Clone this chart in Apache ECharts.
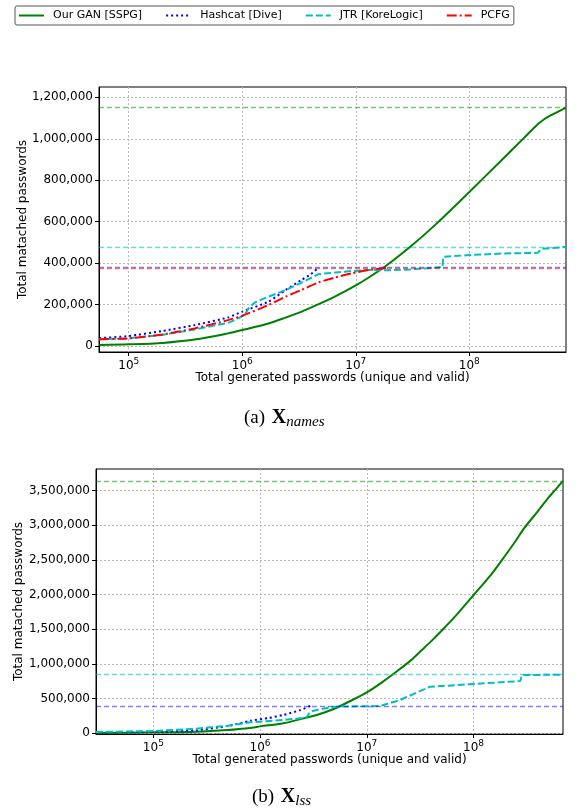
<!DOCTYPE html>
<html><head><meta charset="utf-8">
<script src="https://cdn.jsdelivr.net/npm/echarts@6/dist/echarts.min.js"></script>
<style>html,body{margin:0;padding:0;background:#fff}#c{width:579px;height:811px}</style>
</head><body><div id="c"></div>
<script>
// ---- series names ----
const seriesNames = ['Our GAN [SSPG]', 'Hashcat [Dive]', 'JTR [KoreLogic]', 'PCFG'];

// ---- (a) X_names ----
const ganNamesX = [5.5e4, 1e5, 2e5, 3.8e5, 7.5e5, 1e6, 1.7e6, 2.4e6, 3.3e6, 4.7e6, 6.6e6, 1e7, 1.3e7, 1.8e7, 3e7, 5e7, 1e8, 2e8, 3e8, 4e8, 4.5e8, 5e8, 6e8, 7.1e8];
const ganNamesY = [4000, 7000, 14000, 30000, 60000, 76000, 108000, 136000, 164000, 201000, 239000, 292000, 330000, 382000, 477000, 584000, 743000, 906000, 1002000, 1070000, 1092000, 1108000, 1130000, 1150000];
const hcNamesX = [5.5e4, 1e5, 2e5, 3.8e5, 7.5e5, 1e6, 1.7e6, 2.4e6, 3.3e6, 4e6, 4.7e6];
const hcNamesY = [37000, 47000, 72000, 100000, 137000, 165000, 213000, 269000, 317000, 345000, 378000];
const jtrNamesX = [5.5e4, 1e5, 2e5, 3.8e5, 7.5e5, 9e5, 1.05e6, 1.15e6, 1.3e6, 1.7e6, 2.4e6, 3.3e6, 4.7e6, 6.6e6, 9.2e6, 1.3e7, 2e7, 3e7, 5.8e7, 5.9e7, 1e8, 2e8, 4e8, 4.3e8, 7.1e8];
const jtrNamesY = [31000, 36000, 53000, 79000, 111000, 130000, 150000, 185000, 210000, 237000, 269000, 304000, 346000, 354000, 361000, 366000, 365000, 369000, 380000, 430000, 438000, 446000, 449000, 468000, 478000];
const pcfgNamesX = [5.5e4, 1e5, 2e5, 3.8e5, 7.5e5, 1e6, 1.7e6, 2.4e6, 3.3e6, 4.7e6, 6.6e6, 9.2e6, 1.3e7, 1.85e7];
const pcfgNamesY = [31000, 36000, 55000, 84000, 124000, 145000, 197000, 237000, 269000, 306000, 330000, 350000, 366000, 376000];

// ---- (b) X_lss ----
const ganLssX = [2.9e4, 1e5, 2.5e5, 5e5, 8.4e5, 1e6, 1.65e6, 2.4e6, 3.4e6, 4.9e6, 6.8e6, 1e7, 1.4e7, 2e7, 2.6e7, 3.2e7, 4e7, 5e7, 7e7, 1e8, 1.5e8, 2e8, 2.5e8, 3e8, 4e8, 5e8, 6e8, 6.9e8];
const ganLssY = [4000, 14000, 23000, 48000, 81000, 100000, 144000, 205000, 264000, 350000, 455000, 590000, 738000, 915000, 1055000, 1185000, 1325000, 1474000, 1714000, 1990000, 2310000, 2570000, 2780000, 2960000, 3200000, 3390000, 3530000, 3640000];
const hcLssX = [2.9e4, 1e5, 2.5e5, 5e5, 8.1e5, 1.2e6, 1.65e6, 2.4e6, 2.95e6];
const hcLssY = [14000, 23000, 43000, 105000, 181000, 220000, 264000, 336000, 395000];
const jtrLssX = [2.9e4, 1e5, 2.5e5, 5e5, 8.1e5, 1.65e6, 2.4e6, 2.7e6, 2.95e6, 3.4e6, 4.9e6, 1.33e7, 1.43e7, 2.05e7, 3.9e7, 2.74e8, 2.85e8, 6.9e8];
const jtrLssY = [19000, 33000, 66000, 110000, 158000, 192000, 216000, 222000, 311000, 336000, 383000, 393000, 408000, 480000, 671000, 753000, 840000, 845000];

// ---- ticks ----
const xTicks = [1e5, 1e6, 1e7, 1e8];
const namesYTicks = [0, 200000, 400000, 600000, 800000, 1000000, 1200000];
const lssYTicks = [0, 500000, 1000000, 1500000, 2000000, 2500000, 3000000, 3500000];

const FONT = 'DejaVu Sans';
const colors = ['#008000', '#0000ff', '#00bfbf', '#ff0000'];
const refColors = ['rgba(0,150,0,0.55)', 'rgba(0,0,255,0.5)', 'rgba(0,191,191,0.6)', 'rgba(255,0,0,0.5)'];
const dashes = ['solid', [2, 3], [7, 3], [10, 3, 2, 3]];
const smoothing = [0.3, 0.2, 0, 0.2];

function zip(xs, ys) { return xs.map((x, i) => [x, ys[i]]); }

function mkSeries(idx, xs, ys, gi) {
  const c = colors[idx];
  return {
    name: seriesNames[idx], type: 'line', xAxisIndex: gi, yAxisIndex: gi,
    data: zip(xs, ys), showSymbol: false, symbol: 'none',
    smooth: smoothing[idx],
    lineStyle: { color: c, width: 2, type: dashes[idx] }, itemStyle: { color: c },
    animation: false, z: 3,
    markLine: {
      silent: true, symbol: ['none', 'none'], label: { show: false }, animation: false,
      lineStyle: { color: refColors[idx], width: 1.3, type: [5, 3], opacity: 1 },
      emphasis: { disabled: true },
      data: [{ yAxis: Math.max.apply(null, ys) }]
    }
  };
}

function xAxisCfg(gi, min, max) {
  return {
    type: 'log', logBase: 10, gridIndex: gi, min: min, max: max,
    name: 'Total generated passwords (unique and valid)', nameLocation: 'middle', nameGap: 20,
    nameMoveOverlap: false,
    nameTextStyle: { fontFamily: FONT, fontSize: 12, color: '#000' },
    axisLine: { show: true, onZero: false, lineStyle: { color: '#000', width: 1 } },
    axisTick: { show: true, inside: false, length: 4, lineStyle: { color: '#000' }, customValues: xTicks },
    axisLabel: {
      customValues: xTicks, margin: 5, color: '#000', fontFamily: FONT, fontSize: 12,
      formatter: v => '10{s|' + Math.round(Math.log10(v)) + '}',
      rich: { s: { fontFamily: FONT, fontSize: 9, color: '#000', padding: [0, 0, 8, 0] } }
    },
    splitLine: { show: true, lineStyle: { color: '#b8b8b8', width: 1, type: [2, 2] } },
    minorTick: { show: false }
  };
}

function yAxisCfg(gi, min, max, ticks, gap) {
  return {
    type: 'value', gridIndex: gi, min: min, max: max,
    name: 'Total matached passwords', nameLocation: 'middle', nameGap: gap,
    nameMoveOverlap: false,
    nameTextStyle: { fontFamily: FONT, fontSize: 12, color: '#000' },
    axisLine: { show: true, lineStyle: { color: '#000', width: 1 } },
    axisTick: { show: true, inside: false, length: 4, lineStyle: { color: '#000' }, customValues: ticks },
    axisLabel: {
      customValues: ticks, margin: 6, color: '#000', fontFamily: FONT, fontSize: 12,
      formatter: v => Number(v).toLocaleString('en-US')
    },
    splitLine: { show: true, lineStyle: { color: '#b8b8b8', width: 1, type: [2, 2] } }
  };
}

const option = {
  backgroundColor: '#fff',
  animation: false,
  legend: {
    data: seriesNames, left: 15, top: 6, orient: 'horizontal',
    itemWidth: 25, itemHeight: 12, itemGap: 23,
    padding: [4, 4, 4, 3], borderColor: '#555', borderWidth: 1, borderRadius: 2,
    itemStyle: { opacity: 0, borderWidth: 0 },
    textStyle: { fontFamily: FONT, fontSize: 11, color: '#000', padding: [0, 0, 0, 4] },
    selectedMode: false
  },
  grid: [
    { left: 99, top: 87, width: 467, height: 265, show: true, borderColor: '#000', borderWidth: 1, containLabel: false },
    { left: 96, top: 469, width: 467, height: 265, show: true, borderColor: '#000', borderWidth: 1, containLabel: false }
  ],
  xAxis: [xAxisCfg(0, 54700, 7.1e8), xAxisCfg(1, 29000, 6.9e8)],
  yAxis: [yAxisCfg(0, -30000, 1250000, namesYTicks, 70), yAxisCfg(1, -10000, 3810000, lssYTicks, 71)],
  series: [
    mkSeries(0, ganNamesX, ganNamesY, 0),
    mkSeries(1, hcNamesX, hcNamesY, 0),
    mkSeries(2, jtrNamesX, jtrNamesY, 0),
    mkSeries(3, pcfgNamesX, pcfgNamesY, 0),
    mkSeries(0, ganLssX, ganLssY, 1),
    mkSeries(1, hcLssX, hcLssY, 1),
    mkSeries(2, jtrLssX, jtrLssY, 1)
  ],
  graphic: [
    { type: 'text', x: 244, y: 406, style: {
      text: '{p|(a)}  {b|X}{s|names}', fill: '#000',
      rich: {
        p: { fontFamily: 'Liberation Serif', fontSize: 19, fill: '#000' },
        b: { fontFamily: 'Liberation Serif', fontSize: 20, fontWeight: 'bold', fill: '#000' },
        s: { fontFamily: 'Liberation Serif', fontSize: 15, fontStyle: 'italic', fill: '#000', padding: [9, 0, 0, 0] }
      } } },
    { type: 'text', x: 252, y: 785, style: {
      text: '{p|(b)}  {b|X}{s|lss}', fill: '#000',
      rich: {
        p: { fontFamily: 'Liberation Serif', fontSize: 19, fill: '#000' },
        b: { fontFamily: 'Liberation Serif', fontSize: 20, fontWeight: 'bold', fill: '#000' },
        s: { fontFamily: 'Liberation Serif', fontSize: 15, fontStyle: 'italic', fill: '#000', padding: [9, 0, 0, 0] }
      } } }
  ]
};
const chart = echarts.init(document.getElementById('c'));
chart.setOption(option);
</script>
</body></html>
